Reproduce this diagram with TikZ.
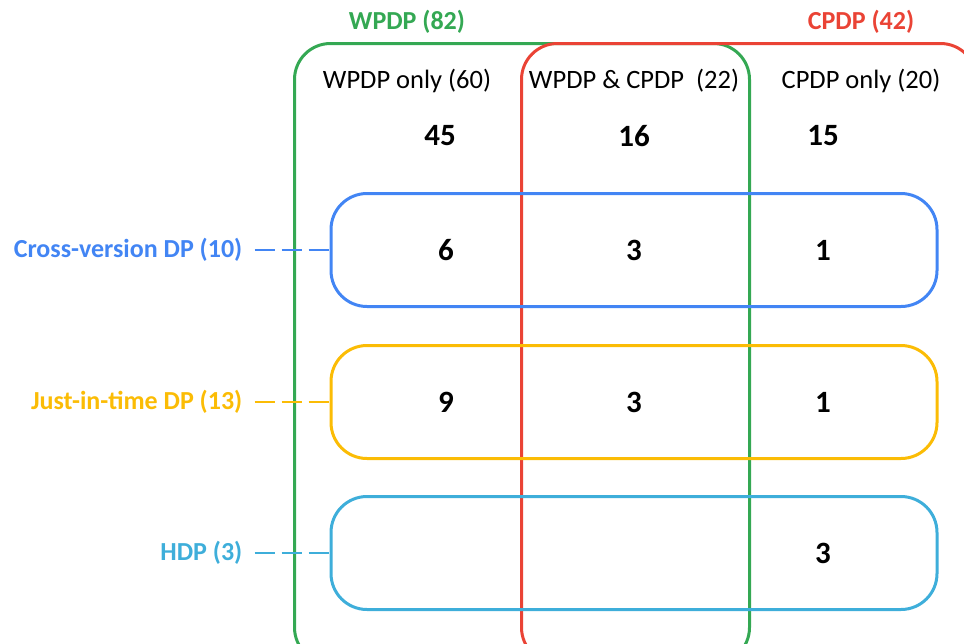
\documentclass[tikz,border=0pt]{standalone}
\usepackage{fontspec}
\setmainfont{Carlito}
\usetikzlibrary{positioning}
\definecolor{wpdpgreen}{RGB}{52,168,83}
\definecolor{cpdpred}{RGB}{234,67,53}
\definecolor{cvblue}{RGB}{66,133,244}
\definecolor{jityellow}{RGB}{251,188,5}
\definecolor{hdpcyan}{RGB}{62,174,218}
\tikzstyle{Set} = [draw, line width=3pt, rounded corners=36pt,
  minimum width=455pt, minimum height=620pt, inner sep=0pt]
\tikzstyle{Kind} = [draw, line width=3pt, rounded corners=36pt,
  minimum width=606pt, minimum height=113pt, inner sep=0pt]
\tikzstyle{Head} = [font=\fontsize{26.5}{30}\selectfont, inner sep=0pt]
\tikzstyle{Title} = [font=\bfseries\fontsize{26}{30}\selectfont, inner sep=0pt]
\tikzstyle{Count} = [font=\bfseries\fontsize{31}{35}\selectfont, inner sep=0pt]
\tikzstyle{Link} = [line width=1.8pt, dash pattern=on 20pt off 7pt,
  shorten <=12pt]

\begin{document}
\begin{tikzpicture}[x=1pt, y=-1pt]
    \useasboundingbox (0,0) rectangle (964,643);
    \clip (0,0) rectangle (964,643);

    % the two big sets
    \node[Set, wpdpgreen, anchor=north west] (wpdp) at (293,42) {};
    \node[Set, cpdpred, anchor=north west] (cpdp) at (520,42) {};
    \node[Title, wpdpgreen] (wpdpt) at (407,22) {WPDP (82)};
    \node[Title, cpdpred] (cpdpt) at (861,22) {CPDP (42)};

    \node[Head] (h1) at (407,81) {WPDP only (60)};
    \node[Head] (h2) at (634,81) {WPDP \& CPDP\ \ (22)};
    \node[Head] (h3) at (861,81) {CPDP only (20)};

    \node[Count] (n1) at (440,136) {45};
    \node[Count] (n2) at (634,136) {16};
    \node[Count] (n3) at (823,136) {15};

    % the three kinds
    \node[Kind, cvblue] (cv) at (634,250) {};
    \node[Kind, jityellow] (jit) at (634,402) {};
    \node[Kind, hdpcyan] (hdp) at (634,553) {};

    \node[Count] (cv1) at (446,250) {6};
    \node[Count] (cv2) at (634,250) {3};
    \node[Count] (cv3) at (823,250) {1};
    \node[Count] (jit1) at (446,402) {9};
    \node[Count] (jit2) at (634,402) {3};
    \node[Count] (jit3) at (823,402) {1};
    \node[Count] (hdp3) at (823,553) {3};

    \node[Title, cvblue, left =87pt of cv] (cvl) {Cross-version DP (10)};
    \node[Title, jityellow, left =87pt of jit] (jitl) {Just-in-time DP (13)};
    \node[Title, hdpcyan, left =87pt of hdp] (hdpl) {HDP (3)};

    \draw[Link, cvblue] (cvl) to (cv);
    \draw[Link, jityellow] (jitl) to (jit);
    \draw[Link, hdpcyan] (hdpl) to (hdp);
\end{tikzpicture}
\end{document}
